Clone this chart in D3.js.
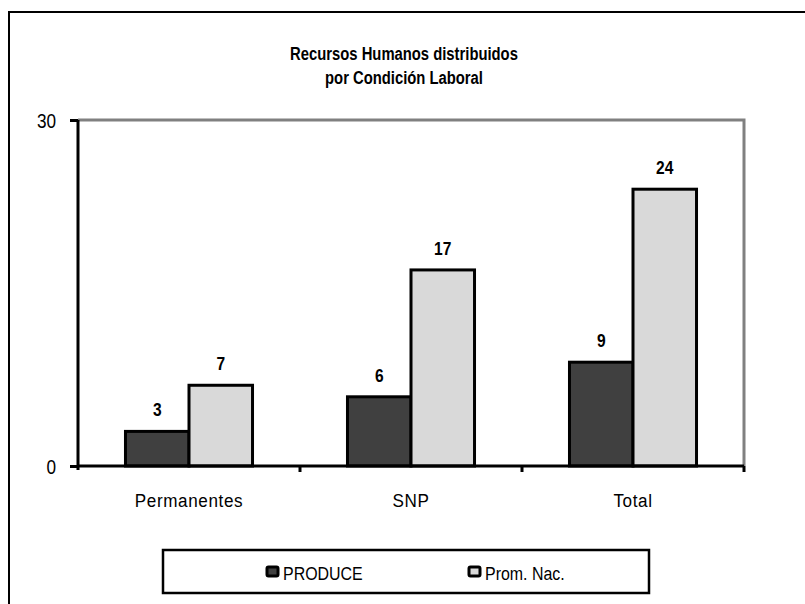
<!DOCTYPE html>
<html><head><meta charset="utf-8">
<script src="https://cdn.jsdelivr.net/npm/d3@7"></script>
<style>
body{margin:0;background:#fff;}
text{font-family:"Liberation Sans Narrow","Liberation Sans",Arial,sans-serif;}
</style></head><body>
<svg id="c" width="805" height="604"></svg>
<script>
const categories = ["Permanentes","SNP","Total"];
const seriesNames = ["PRODUCE","Prom. Nac."];
const produce = [3,6,9];
const promNac = [7,17,24];
const yTicks = [0,30];
const colors = ["#404040","#d9d9d9"];

const svg = d3.select("#c");
const L=78, R=744, T=120, B=466;
const SX=0.86;

function label(x,y,txt,opt={}){
  return svg.append("text")
    .attr("transform",`translate(${x},${y}) scale(${opt.sx||SX},1)`)
    .attr("text-anchor",opt.anchor||"middle")
    .attr("font-weight",opt.bold?"bold":"normal")
    .attr("font-size",opt.size||19)
    .attr("fill","#000")
    .text(txt);
}

// outer frame
svg.append("rect").attr("x",9).attr("y",12).attr("width",820).attr("height",620)
  .attr("fill","none").attr("stroke","#000").attr("stroke-width",2);

// title
label(404,59.5,"Recursos Humanos distribuidos",{bold:true,size:19,sx:0.78});
label(404,84,"por Condición Laboral",{bold:true,size:19,sx:0.78});

const x = d3.scaleBand().domain(categories).range([L,R]).paddingInner(0).paddingOuter(0);
const x1 = d3.scaleBand().domain(seriesNames).range([0,x.bandwidth()]).paddingInner(0).paddingOuter(0.7475);
const y = d3.scaleLinear().domain([0,30]).range([B,T]);

// plot area top/right gray
svg.append("path").attr("d",`M${L},${T}H${R}V${B}`).attr("fill","none").attr("stroke","#808080").attr("stroke-width",3);

const data = categories.map((c,i)=>({c, vals:[produce[i],promNac[i]]}));
const g = svg.append("g");
data.forEach(d=>{
  d.vals.forEach((v,j)=>{
    const bx = x(d.c)+x1(seriesNames[j]);
    g.append("rect").attr("x",bx).attr("y",y(v)).attr("width",x1.bandwidth()).attr("height",y(0)-y(v))
      .attr("fill",colors[j]).attr("stroke","#000").attr("stroke-width",3);
    label(bx+x1.bandwidth()/2, y(v)-15, v, {bold:true,size:19,sx:0.82});
  });
});

// y axis
const ya = svg.append("g").attr("transform",`translate(${L},0)`)
  .call(d3.axisLeft(y).tickValues(yTicks).tickSize(8).tickPadding(14));
ya.selectAll("path,line").attr("stroke","#000").attr("stroke-width",3);
ya.select(".domain").attr("d",`M0,${T}V${B+4}`);
ya.selectAll(".tick text").each(function(){
  d3.select(this).attr("x",null).attr("dy",null)
    .attr("transform",`translate(-22,7) scale(${SX},1)`)
    .attr("font-size",20).attr("fill","#000").style("font-family",'"Liberation Sans",Arial,sans-serif');
});

// x axis
const xa = svg.append("g").attr("transform",`translate(0,${B})`)
  .call(d3.axisBottom(x).tickSize(0).tickPadding(0));
xa.select(".domain").attr("d",`M${L},0H${R}`).attr("stroke","#000").attr("stroke-width",3);
xa.selectAll(".tick text").each(function(){
  d3.select(this).attr("y",null).attr("dy",null)
    .attr("transform",`translate(0,41) scale(0.9,1)`)
    .attr("letter-spacing","0.7px")
    .attr("font-size",19).attr("fill","#000").style("font-family",'"Liberation Sans",Arial,sans-serif');
});
// category boundary ticks
const bounds = categories.slice(1).map(c=>x(c)).concat([R]);
xa.selectAll("line.bt").data(bounds).enter().append("line").attr("class","bt")
  .attr("x1",d=>d).attr("x2",d=>d).attr("y1",0).attr("y2",6).attr("stroke","#000").attr("stroke-width",3);

// legend
svg.append("rect").attr("x",163).attr("y",550).attr("width",486).attr("height",43)
  .attr("fill","#fff").attr("stroke","#000").attr("stroke-width",2.5);
const legX=[267,469];
seriesNames.forEach((s,j)=>{
  svg.append("rect").attr("x",legX[j]).attr("y",567).attr("width",11).attr("height",9)
    .attr("fill",colors[j]).attr("stroke","#000").attr("stroke-width",3).attr("rx",1.5);
  label(legX[j]+16, 580, s, {anchor:"start",size:19,sx:0.84});
});
</script>
</body></html>
